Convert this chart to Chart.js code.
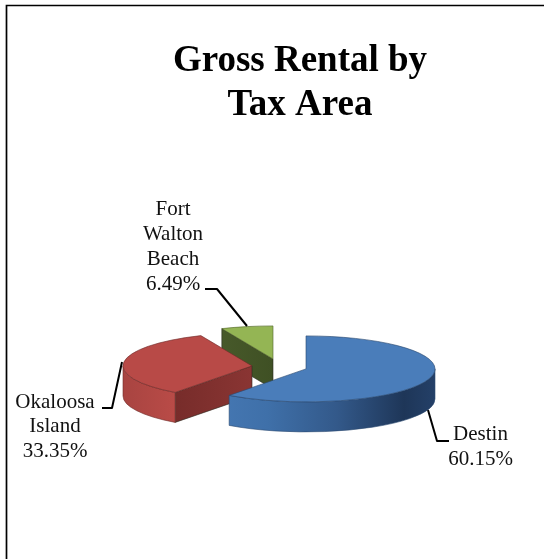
<!DOCTYPE html>
<html>
<head>
<meta charset="utf-8">
<title>Gross Rental by Tax Area</title>
<script src="https://cdn.jsdelivr.net/npm/chart.js@4"></script>
<style>
  html, body { margin: 0; padding: 0; background: #fff; }
  #wrap { position: relative; width: 544px; height: 559px; }
</style>
</head>
<body>
<div id="wrap"><canvas id="rentalChart"></canvas></div>
<script>
// Chart data
const areas = ['Destin', 'Okaloosa Island', 'Fort Walton Beach'];
const shares = [60.15, 33.35, 6.49];
const titleLines = ['Gross Rental by', 'Tax Area'];

// Colours per slice
const topColors = ['#4a7dba', '#b84a47', '#94b554'];
const edgeColors = ['#2b4a70', '#6e2b29', '#55692f'];
const cutColors = ['#2b4a70', '#772c2a', '#47592a'];

// Fake 3D settings
const squash = 33 / 129;
const depth = 30;
const explode = [[6, 0], [-48, -3], [-27, -10]]; // px shift of each slice from chart centre

// Label text and where it sits, leader goes from label to slice
const labelLines = [['Destin', '60.15%'], ['Okaloosa', 'Island', '33.35%'], ['Fort', 'Walton', 'Beach', '6.49%']];
const labelPos = [[480.5, 434, 25.5], [55, 402, 24.5], [173, 209, 25]];
const leaders = [
    [[449, 441], [437, 441], [428, 410]],
    [[102, 408], [112, 408], [122, 362]],
    [[205, 289], [217, 289], [247, 326]]
];

function wallGradient(ctx, i, x, r) {
    const g = ctx.createLinearGradient(x - r, 0, x + r, 0);
    if (i === 0) {
        g.addColorStop(0, '#4a7dba');
        g.addColorStop(0.35, '#3f70a9');
        g.addColorStop(0.62, '#33598a');
        g.addColorStop(0.88, '#1e3658');
        g.addColorStop(1, '#244068');
    } else {
        g.addColorStop(0, '#a84441');
        g.addColorStop(0.2, '#b94b47');
        g.addColorStop(1, '#b94b47');
    }
    return g;
}

// Draws the slices back to front, each with its side walls under the top
const pie3d = {
    id: 'pie3d',
    beforeDatasetDraw(chart) {
        const ctx = chart.ctx;
        const arcs = chart.getDatasetMeta(0).data;
        for (let i = arcs.length - 1; i >= 0; i--) {
            const arc = arcs[i];
            const x = arc.x + explode[i][0];
            const y = arc.y + explode[i][1];
            const r = arc.outerRadius;
            const ry = r * squash;

            // flat cut faces, only the ones turned towards the viewer
            [[arc.startAngle, -1], [arc.endAngle, 1]].forEach(([a, side]) => {
                if (Math.sin(a + side * Math.PI / 2) <= 0.01) return;
                const ex = x + Math.cos(a) * r;
                const ey = y + Math.sin(a) * ry;
                const g = ctx.createLinearGradient(ex, 0, x, 0);
                g.addColorStop(0, cutColors[i]);
                g.addColorStop(1, i === 1 ? '#8a3533' : '#3f5024');
                ctx.beginPath();
                ctx.moveTo(x, y);
                ctx.lineTo(ex, ey);
                ctx.lineTo(ex, ey + depth);
                ctx.lineTo(x, y + depth);
                ctx.closePath();
                ctx.fillStyle = g;
                ctx.fill();
                ctx.strokeStyle = '#2a2a20';
                ctx.lineWidth = 0.6;
                ctx.stroke();
            });

            // outer rim, the lower half of the ellipse only
            const from = Math.max(arc.startAngle, 0);
            const to = Math.min(arc.endAngle, Math.PI);
            if (to > from) {
                ctx.beginPath();
                ctx.ellipse(x, y, r, ry, 0, from, to);
                ctx.ellipse(x, y + depth, r, ry, 0, to, from, true);
                ctx.closePath();
                ctx.fillStyle = wallGradient(ctx, i, x, r);
                ctx.fill();
                ctx.strokeStyle = edgeColors[i];
                ctx.lineWidth = 0.6;
                ctx.stroke();
            }

            // top of the slice is the library's own arc, squashed
            ctx.save();
            ctx.translate(x, y);
            ctx.scale(1, squash);
            ctx.translate(-arc.x, -arc.y);
            arc.draw(ctx);
            ctx.restore();
        }
        return false;
    },
    afterDraw(chart) {
        const ctx = chart.ctx;
        ctx.save();
        // frame has only top and left sides
        ctx.strokeStyle = '#000';
        ctx.lineWidth = 1.7;
        ctx.beginPath();
        ctx.moveTo(6.5, 559);
        ctx.lineTo(6.5, 5.5);
        ctx.lineTo(544, 5.5);
        ctx.stroke();

        ctx.lineWidth = 2;
        ctx.lineJoin = 'round';
        leaders.forEach(line => {
            ctx.beginPath();
            line.forEach(([px, py], k) => k ? ctx.lineTo(px, py) : ctx.moveTo(px, py));
            ctx.stroke();
        });

        ctx.fillStyle = '#111';
        ctx.font = '21px "Liberation Serif"';
        ctx.textAlign = 'center';
        ctx.textBaseline = 'middle';
        labelLines.forEach((lines, i) => {
            const [lx, ly, step] = labelPos[i];
            lines.forEach((t, k) => ctx.fillText(t, lx, ly + k * step));
        });
        ctx.restore();
    }
};

new Chart(document.getElementById('rentalChart'), {
    type: 'pie',
    data: {
        labels: areas,
        datasets: [{
            data: shares,
            backgroundColor: topColors,
            borderColor: edgeColors,
            borderWidth: 1,
            radius: 129
        }]
    },
    options: {
        responsive: true,
        maintainAspectRatio: false,
        animation: false,
        layout: { padding: { left: 56, right: 0, top: 0, bottom: 61 } },
        plugins: {
            legend: { display: false },
            tooltip: { enabled: false },
            title: {
                display: true,
                text: titleLines,
                color: '#000',
                font: { family: '"Liberation Serif"', size: 37, weight: 'bold', lineHeight: 1.18 },
                padding: { top: 39.5, bottom: 113 }
            }
        }
    },
    plugins: [pie3d]
});
</script>
</body>
</html>
